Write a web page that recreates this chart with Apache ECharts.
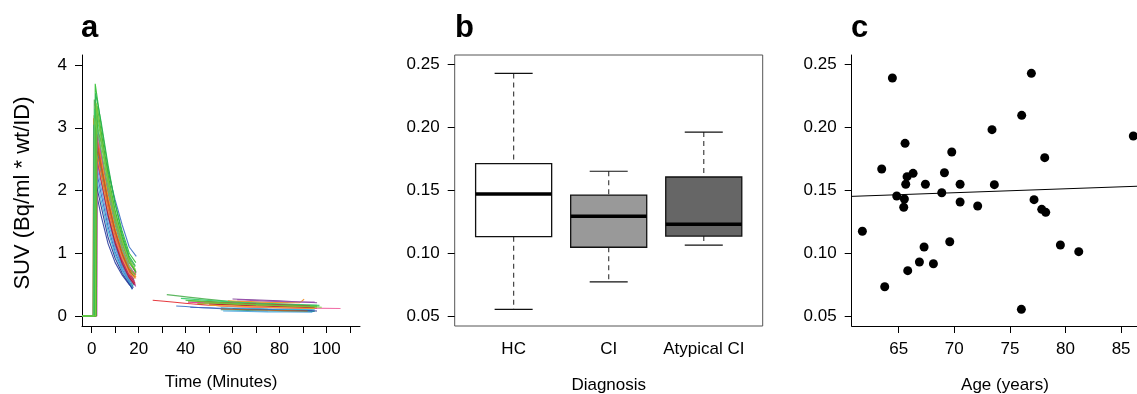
<!DOCTYPE html>
<html><head><meta charset="utf-8">
<script src="https://cdn.jsdelivr.net/npm/echarts@6/dist/echarts.min.js"></script>
<style>html,body{margin:0;padding:0;background:#fff}#c{width:1137px;height:394px}</style>
</head><body><div id="c"></div>
<script>
const FONT = '"Liberation Sans", Arial, Helvetica, sans-serif';

// ---------- Panel a : SUV time-activity curves ----------
const timeTicks = [0,10,20,30,40,50,60,70,80,90,100,110];
const timeLabels = [0,20,40,60,80,100];
const suvTicks = [0,1,2,3,4];
const baselineStart = -4;
const decayTimes = [4,7,10,13,16];
const curveColors = ['#3b6fc4','#2a9fb5','#e3262b','#e4308f','#2b3d9e','#f28e1c','#7e3f98','#4aa3df','#d7191c','#a6a832','#f0609e','#3f5fbf','#c8203f','#f5a623','#1fa39a','#9b4fb0','#e8452c','#5a7fd6','#b5651d','#d53fb0','#35b6d6','#b2182b','#253494','#ff8c42','#2fbf2f','#4caf50','#33cc66','#66c23a','#3dae2b','#22b14c','#5cc85c','#7ccd3c'];
const riseStart = [1.5,1.3,1.6,1.7,0.9,0.5,1.4,1.1,1.2,0.7,1.5,1.3,1.6,1.0,0.6,1.7,1.1,1.9,1.3,2.2,1.2,1.5,1.0,1.8,1.2,0.8,1.0,1.8,2.0,1.4,0.9,1.6];
const peakTime  = [1.8,1.6,1.9,2.0,1.2,0.8,1.7,1.4,1.5,1.0,1.8,1.6,1.9,1.3,0.9,2.0,1.4,2.2,1.6,2.5,1.5,1.8,1.3,2.1,1.5,1.1,1.3,2.1,2.3,1.7,1.2,1.9];
const peakSuv   = [3.00,3.25,2.90,2.85,2.10,3.15,2.70,2.55,2.60,3.20,2.95,2.40,2.75,2.80,3.05,2.50,3.00,2.65,2.85,2.90,2.30,2.70,2.20,2.60,3.70,3.45,3.30,3.10,3.35,3.55,3.15,3.40];
const decaySuv = [
  [2.80,2.30,1.85,1.45,1.10],[2.60,1.95,1.45,1.05,0.75],[2.45,1.85,1.35,0.98,0.70],[2.55,2.00,1.50,1.10,0.80],
  [1.60,1.15,0.85,0.65,0.50],[2.50,1.90,1.40,1.02,0.76],[2.30,1.75,1.30,0.95,0.68],[2.05,1.50,1.08,0.78,0.56],
  [2.20,1.65,1.20,0.88,0.64],[2.40,1.80,1.32,0.97,0.72],[2.35,1.75,1.28,0.92,0.66],[1.95,1.42,1.02,0.74,0.54],
  [2.28,1.70,1.25,0.90,0.65],[2.30,1.78,1.33,0.99,0.74],[2.25,1.62,1.15,0.82,0.60],[2.15,1.60,1.18,0.86,0.62],
  [2.40,1.82,1.36,1.00,0.74],[2.20,1.58,1.12,0.80,0.58],[2.38,1.80,1.34,0.98,0.72],[2.60,2.05,1.55,1.15,0.85],
  [1.85,1.35,0.98,0.72,0.53],[2.18,1.60,1.16,0.84,0.61],[1.75,1.25,0.92,0.68,0.51],[2.22,1.68,1.24,0.92,0.68],
  [3.05,2.35,1.80,1.35,1.00],[2.90,2.20,1.65,1.25,0.92],[2.85,2.15,1.60,1.18,0.85],[2.75,2.10,1.55,1.15,0.85],
  [2.95,2.25,1.68,1.24,0.90],[3.10,2.40,1.78,1.30,0.95],[2.65,2.00,1.48,1.08,0.78],[2.85,2.18,1.62,1.20,0.88]
];
const endTime = [19.0,18.2,18.0,18.6,17.5,18.9,18.3,17.2,18.6,18.4,18.7,17.8,18.5,18.7,17.6,18.8,18.9,18.1,18.5,19.0,17.0,18.2,17.4,18.9,18.8,18.5,18.7,18.8,18.9,18.6,18.4,18.7];
const endSuv  = [0.95,0.62,0.58,0.66,0.44,0.62,0.55,0.42,0.50,0.60,0.48,0.45,0.52,0.64,0.47,0.47,0.66,0.49,0.61,0.70,0.45,0.50,0.43,0.60,0.85,0.78,0.70,0.72,0.68,0.80,0.65,0.74];

const lateColors = ['#e3262b','#4caf50','#3b6fc4','#f0609e','#7e3f98','#f28e1c','#2fbf2f','#1fa39a','#4aa3df','#e4308f','#a6a832','#3f5fbf','#b2182b','#33cc66','#253494','#c8203f','#35b6d6','#9b4fb0','#7ccd3c','#b5651d','#66c23a','#f5a623'];
const lateTimes = [[26,55,96],[32,60,96],[36,60,95],[58,80,106],[60,80,96],[58,88,90.5],[40,65,97],[55,75,95],[56,75,94],[41,65,95],[45,70,96],[42,65,94],[50,70,95],[38,65,97],[60,80,96],[45,70,93],[55,75,95],[62,80,95],[48,70,98],[55,75,92],[41,65,96],[50,75,95]];
const lateSuv = [[0.25,0.16,0.12],[0.34,0.23,0.17],[0.16,0.11,0.09],[0.15,0.13,0.12],[0.27,0.24,0.21],[0.24,0.21,0.27],[0.25,0.20,0.16],[0.10,0.08,0.07],[0.08,0.065,0.06],[0.22,0.18,0.15],[0.20,0.17,0.14],[0.14,0.11,0.09],[0.19,0.16,0.13],[0.28,0.21,0.17],[0.12,0.10,0.08],[0.23,0.19,0.16],[0.13,0.11,0.10],[0.26,0.23,0.22],[0.21,0.18,0.14],[0.11,0.09,0.08],[0.24,0.19,0.15],[0.17,0.14,0.12]];

// ---------- Panel b : boxplots by diagnosis ----------
const diagnosis = ['HC','CI','Atypical CI'];
// [lower whisker, Q1, median, Q3, upper whisker]
const boxStats = [
  [0.0553,0.1131,0.1470,0.1712,0.2430],
  [0.0771,0.1047,0.1293,0.1462,0.1652],
  [0.1064,0.1136,0.1230,0.1606,0.1964]
];
const boxFill = ['#ffffff','#999999','#666666'];
const valueTicks = [0.05,0.10,0.15,0.20,0.25];

// ---------- Panel c : value vs age ----------
const ages   = [61.73,63.74,63.47,64.43,64.82,65.57,65.63,65.75,66.29,65.51,65.45,65.81,66.86,67.28,67.40,68.12,68.87,69.11,69.59,69.77,70.52,70.52,72.10,73.39,73.60,76.06,76.03,76.93,77.17,77.86,78.22,78.13,79.54,81.19,86.10];
const values = [0.1174,0.0733,0.1670,0.2394,0.1455,0.1874,0.1548,0.1609,0.1635,0.1431,0.1365,0.0861,0.0930,0.1049,0.1548,0.0916,0.1481,0.1640,0.1091,0.1805,0.1548,0.1407,0.1375,0.1983,0.1545,0.2097,0.0553,0.2431,0.1426,0.1349,0.1325,0.1760,0.1065,0.1012,0.1932];
const ageTicks = [65,70,75,80,85];
const fitAge   = [60.77, 88.5];
const fitValue = [0.1452, 0.1539];

// ---------- build ----------
function axis(grid, min, max, ticks, labels, fmt, extra) {
  const a = {
    type:'value', gridIndex:grid, min:min, max:max, scale:true,
    axisLine:{show:true, onZero:false, lineStyle:{color:'#000', width:1}},
    axisTick:{show:true, length:7, inside:false, customValues:ticks, lineStyle:{color:'#000', width:1}},
    axisLabel:{show:true, customValues:labels, formatter:fmt, color:'#000', fontFamily:FONT, fontSize:17, margin:15, hideOverlap:false, showMinLabel:true, showMaxLabel:true},
    splitLine:{show:false}
  };
  if (extra) {
    for (const k in extra) {
      if (typeof extra[k] === 'object' && a[k]) Object.assign(a[k], extra[k]); else a[k] = extra[k];
    }
  }
  return a;
}

const series = [];
for (let i = 0; i < peakSuv.length; i++) {
  const d = [[baselineStart,0],[riseStart[i],0],[peakTime[i],peakSuv[i]]];
  decayTimes.forEach((t,j)=>d.push([t, decaySuv[i][j]]));
  d.push([endTime[i], endSuv[i]]);
  series.push({type:'line', xAxisIndex:0, yAxisIndex:0, data:d, showSymbol:false, silent:true, animation:false,
    lineStyle:{color:curveColors[i], width:1.1, opacity:0.9}});
}
for (let i = 0; i < lateTimes.length; i++) {
  const d = lateTimes[i].map((t,j)=>[t, lateSuv[i][j]]);
  series.push({type:'line', xAxisIndex:0, yAxisIndex:0, data:d, showSymbol:false, silent:true, animation:false, smooth:0.3,
    lineStyle:{color:lateColors[i], width:1.1, opacity:0.9}});
}
series.push({
  type:'custom', xAxisIndex:1, yAxisIndex:1, animation:false, silent:true,
  data: boxStats.map((s,i)=>[i+1].concat(s)),
  encode:{x:0, y:[1,2,3,4,5]},
  renderItem: function(params, api){
    const x = api.value(0);
    const lo = api.coord([x, api.value(1)]);
    const q1 = api.coord([x, api.value(2)]);
    const md = api.coord([x, api.value(3)]);
    const q3 = api.coord([x, api.value(4)]);
    const hi = api.coord([x, api.value(5)]);
    const w = api.size([0.8, 0])[0];
    const cx = lo[0];
    const dash = {stroke:'#444', lineWidth:1.2, lineDash:[5,4]};
    const cap = {stroke:'#111', lineWidth:1.2};
    return {type:'group', children:[
      {type:'line', shape:{x1:cx,y1:hi[1],x2:cx,y2:q3[1]}, style:dash},
      {type:'line', shape:{x1:cx,y1:q1[1],x2:cx,y2:lo[1]}, style:dash},
      {type:'line', shape:{x1:cx-w/4,y1:hi[1],x2:cx+w/4,y2:hi[1]}, style:cap},
      {type:'line', shape:{x1:cx-w/4,y1:lo[1],x2:cx+w/4,y2:lo[1]}, style:cap},
      {type:'rect', shape:{x:cx-w/2,y:q3[1],width:w,height:q1[1]-q3[1]}, style:{fill:boxFill[params.dataIndex], stroke:'#111', lineWidth:1.3}},
      {type:'line', shape:{x1:cx-w/2,y1:md[1],x2:cx+w/2,y2:md[1]}, style:{stroke:'#000', lineWidth:3.5}}
    ]};
  }
});
series.push({type:'line', xAxisIndex:2, yAxisIndex:2, data: fitAge.map((a,i)=>[a, fitValue[i]]), showSymbol:false, silent:true, animation:false,
  lineStyle:{color:'#000', width:1}});
series.push({type:'scatter', xAxisIndex:2, yAxisIndex:2, data: ages.map((a,i)=>[a, values[i]]), symbolSize:9, silent:true, animation:false, clip:false,
  itemStyle:{color:'#000', opacity:1}});

const f2 = v => Number(v).toFixed(2);
const txt = (text, x, y, font, rot) => ({type:'text', x:x, y:y, rotation:rot||0, silent:true,
  style:{text:text, font:font, fill:'#000', align:'center', verticalAlign:'middle', textAlign:'center', textVerticalAlign:'middle'}});
const ttl = (text, x) => ({type:'text', x:x, y:28, silent:true,
  style:{text:text, font:'bold 31px ' + FONT, fill:'#000', align:'left', verticalAlign:'middle', textAlign:'left', textVerticalAlign:'middle'}});

const option = {
  backgroundColor:'#fff',
  animation:false,
  grid:[
    {left:82, top:55, width:278, height:271, containLabel:false},
    {left:454.7, top:55, width:308, height:271, show:true, borderColor:'#555', borderWidth:1, backgroundColor:'transparent', containLabel:false},
    {left:851.7, top:55, width:285.3, height:271, containLabel:false}
  ],
  xAxis:[
    axis(0, -4.13, 114.3, timeTicks, timeLabels, v=>String(v)),
    axis(1, 0.38, 3.62, [1,2,3], [1,2,3], v=>diagnosis[Math.round(v)-1], {axisLine:{show:false}, axisTick:{show:false}}),
    axis(2, 60.77, 86.43, ageTicks, ageTicks, v=>String(v))
  ],
  yAxis:[
    axis(0, -0.16, 4.16, suvTicks, suvTicks, v=>String(v)),
    axis(1, 0.04204, 0.2577, valueTicks, valueTicks, f2, {axisLine:{show:false}}),
    axis(2, 0.04204, 0.2577, valueTicks, valueTicks, f2)
  ],
  graphic:[
    ttl('a', 81), ttl('b', 455), ttl('c', 851),
    txt('Time (Minutes)', 221, 382, '17px ' + FONT),
    txt('Diagnosis', 608.7, 385, '17px ' + FONT),
    txt('Age (years)', 1005, 385, '17px ' + FONT),
    txt('SUV (Bq/ml * wt/ID)', 23, 193, '22px ' + FONT, Math.PI/2)
  ],
  series: series
};
const chart = echarts.init(document.getElementById('c'), null, {renderer:'canvas'});
chart.setOption(option);
</script>
</body></html>
